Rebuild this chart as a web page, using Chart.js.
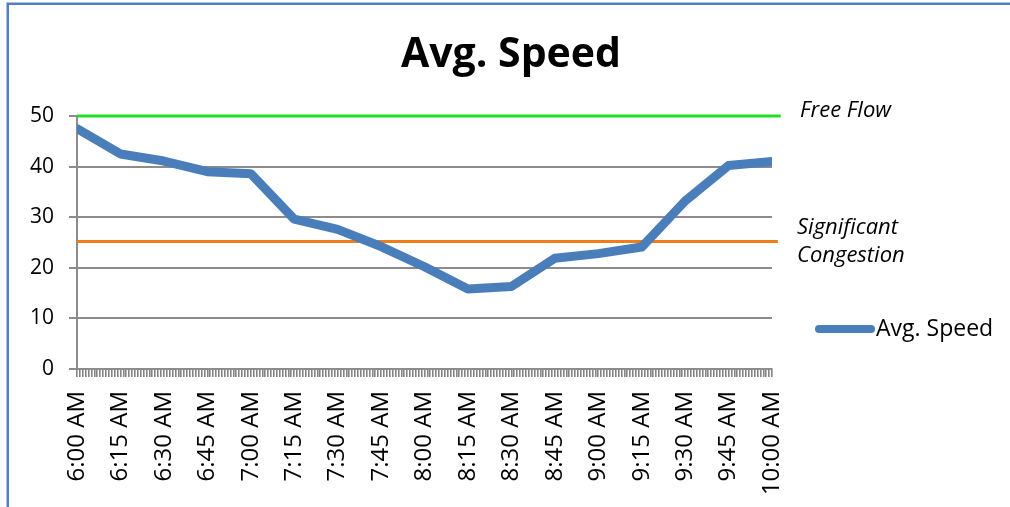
<!DOCTYPE html>
<html>
<head>
<meta charset="utf-8">
<script src="https://cdn.jsdelivr.net/npm/chart.js@4.4.1/dist/chart.umd.min.js"></script>
<style>
  html, body { margin: 0; padding: 0; background: #fff; }
  #wrap { position: relative; width: 1010px; height: 507px; overflow: hidden; }
  #frame { position: absolute; left: 7px; top: 3px; width: 1100px; height: 600px;
           border-left: 2px solid #4f81bd; border-top: 2px solid #4f81bd;
           box-shadow: -1px -1px 0 #a9c3e6; pointer-events: none; }
  canvas { position: absolute; left: 0; top: 0; }
</style>
</head>
<body>
<div id="wrap">
  <canvas id="c" width="1010" height="507"></canvas>
  <div id="frame"></div>
</div>
<script>
// ---- data ----
const categories = ['6:00 AM','6:15 AM','6:30 AM','6:45 AM','7:00 AM','7:15 AM','7:30 AM','7:45 AM','8:00 AM',
                    '8:15 AM','8:30 AM','8:45 AM','9:00 AM','9:15 AM','9:30 AM','9:45 AM','10:00 AM'];
const avgSpeed = [47.5, 42.5, 41.1, 39.0, 38.6, 29.6, 27.6, 24.2, 20.2, 15.8, 16.3, 21.9, 22.8, 24.1, 33.2, 40.2, 41.0];
const categoryMinutes = [0, 15, 30, 45, 60, 75, 90, 105, 120, 135, 150, 165, 180, 195, 210, 225, 240];
const yTicks = [0, 10, 20, 30, 40, 50];
const freeFlow = 50;
const congestion = 25.2;
const freeFlowLabel = ['Free Flow'];
const congestionLabel = ['Significant', 'Congestion'];
const titleText = 'Avg. Speed';
const seriesName = 'Avg. Speed';

const FONT = "'Open Sans', 'Liberation Sans', sans-serif";
const lastMin = categoryMinutes[categoryMinutes.length - 1];

const speedPoints = categoryMinutes.map((m, i) => ({ x: m, y: avgSpeed[i] }));
const freePoints = [{ x: categoryMinutes[0], y: freeFlow }, { x: lastMin + 3, y: freeFlow }];
const congPoints = [{ x: categoryMinutes[0], y: congestion }, { x: lastMin + 2, y: congestion }];

const annotations = {
  id: 'annotations',
  afterDraw(chart) {
    const ctx = chart.ctx;
    const ys = chart.scales.y;
    ctx.save();
    ctx.fillStyle = '#000';
    ctx.textBaseline = 'middle';
    ctx.textAlign = 'center';
    ctx.font = 'bold 41px ' + FONT;
    ctx.fillText(titleText, 511, 55);
    ctx.textAlign = 'left';
    ctx.font = 'italic 22px ' + FONT;
    ctx.fillText(freeFlowLabel[0], 800, ys.getPixelForValue(freeFlow) - 5);
    const cy = ys.getPixelForValue(congestion);
    ctx.fillText(congestionLabel[0], 797, cy - 14);
    ctx.fillText(congestionLabel[1], 797, cy + 14);
    // legend
    const ly = 329;
    ctx.strokeStyle = chart.data.datasets[0].borderColor;
    ctx.lineWidth = 8;
    ctx.lineCap = 'round';
    ctx.beginPath();
    ctx.moveTo(819, ly);
    ctx.lineTo(871, ly);
    ctx.stroke();
    ctx.font = '23px ' + FONT;
    ctx.fillText(chart.data.datasets[0].label, 876, ly);
    ctx.restore();
  }
};

new Chart(document.getElementById('c'), {
  type: 'line',
  data: {
    datasets: [
      { label: seriesName, data: speedPoints, borderColor: '#4a7ebb', borderWidth: 9,
        pointRadius: 0, tension: 0, borderCapStyle: 'round', borderJoinStyle: 'round', order: 0 },
      { label: 'Free Flow', data: freePoints, borderColor: '#1ee01e', borderWidth: 3,
        pointRadius: 0, clip: false, order: 1 },
      { label: 'Significant Congestion', data: congPoints, borderColor: '#f07d1a', borderWidth: 3,
        pointRadius: 0, clip: false, order: 1 }
    ]
  },
  options: {
    responsive: false,
    animation: false,
    layout: { padding: { left: 0, right: 238, top: 116, bottom: 0 } },
    plugins: {
      legend: { display: false },
      tooltip: { enabled: false },
      title: { display: false }
    },
    scales: {
      x: {
        type: 'linear', min: 0, max: lastMin,
        afterFit(s) { s.height = 138; },
        afterBuildTicks(s) {
          const t = [];
          for (let m = 0; m <= lastMin; m++) t.push({ value: m });
          s.ticks = t;
        },
        border: { color: '#8c8c8c', width: 2 },
        grid: { drawOnChartArea: false, drawTicks: true, tickLength: 8, color: '#858585', lineWidth: 1.6 },
        ticks: {
          autoSkip: false, minRotation: 90, maxRotation: 90, padding: 14, color: '#000',
          font: { family: FONT, size: 24 },
          callback(v) { const i = categoryMinutes.indexOf(v); return i >= 0 ? categories[i] : ''; }
        }
      },
      y: {
        min: yTicks[0], max: yTicks[yTicks.length - 1],
        afterFit(s) { s.width = 77; },
        afterBuildTicks(s) { s.ticks = yTicks.map(v => ({ value: v })); },
        border: { color: '#8c8c8c', width: 2 },
        grid: { color: '#8c8c8c', lineWidth: 2, tickLength: 8 },
        ticks: { color: '#000', padding: 15, font: { family: FONT, size: 21 } }
      }
    }
  },
  plugins: [annotations]
});
</script>
</body>
</html>
